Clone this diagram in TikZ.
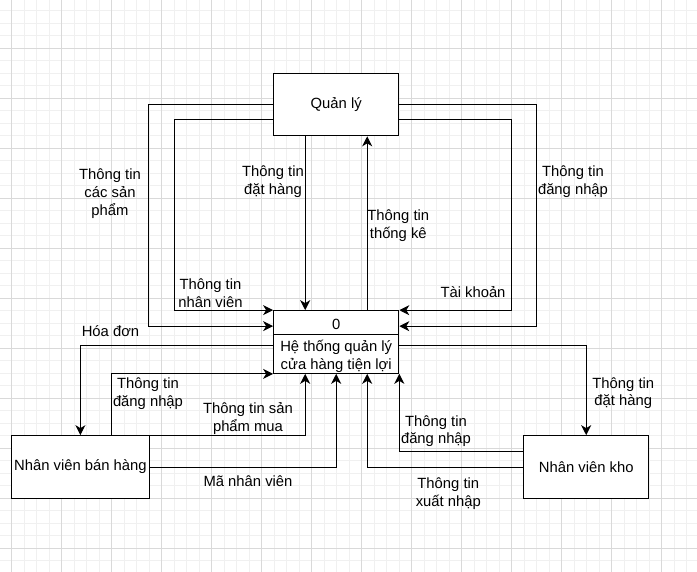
\documentclass[tikz,border=0pt]{standalone}
\usepackage{fontspec}
\setmainfont{Liberation Sans}
\usepackage{tikz}
\usetikzlibrary{arrows.meta}
\tikzstyle{entity} = [rectangle, minimum width=125pt, minimum height=62.5pt, inner sep=0pt, text centered, draw=black, line width=1.2pt, fill=white]
\tikzstyle{label} = [inner sep=0pt, align=center, yshift=-1.5pt]
\tikzstyle{arrow} = [line width=1pt, -{Stealth[length=10pt, width=10pt, inset=3pt]}]
\tikzstyle{gridminor} = [line width=1pt, draw=black!6]
\tikzstyle{gridmajor} = [line width=1pt, draw=black!15]

\begin{document}
\begin{tikzpicture}[x=1pt, y=-1pt, node distance=125pt, font=\fontsize{14.8}{17.8}\selectfont]
        \useasboundingbox (0,0) rectangle (697,572);
        \fill[white] (0,0) rectangle (697,572);
        % Grid
        \foreach \k in {0,...,55} \draw[gridminor] ({11.7+12.5*\k},0) -- ({11.7+12.5*\k},572);
        \foreach \k in {-3,...,41} \draw[gridminor] (0,{48.3+12.5*\k}) -- (697,{48.3+12.5*\k});
        \foreach \k in {0,...,13} \draw[gridmajor] ({11.7+50*\k},0) -- ({11.7+50*\k},572);
        \foreach \k in {0,...,10} \draw[gridmajor] (0,{48.3+50*\k}) -- (697,{48.3+50*\k});

        % Nodes
        \node (qly) [entity] at (336.2,104.5) {Quản lý};
        \node (sys) [entity, below of=qly, yshift=-112.5pt] {};
        \node (sysid) [label] at (336.2,323) {0};
        \node (sysname) [label] at (336.2,354.5) {Hệ thống quản lý\\cửa hàng tiện lợi};
        \node (nvbh) [entity, minimum width=137.5pt, below of=sys, xshift=-255.8pt] {Nhân viên bán hàng};
        \node (nvk) [entity, below of=sys, xshift=250pt] {Nhân viên kho};
        \draw [line width=1.2pt] ([yshift=-24.5pt]sys.north west) -- ([yshift=-24.5pt]sys.north east);

        % Labels
        \node (lblproducts) [label] at (110,192) {Thông tin\\các sản\\phẩm};
        \node (lblstaff) [label] at (210.5,291.7) {Thông tin\\nhân viên};
        \node (lblorder) [label] at (273,180) {Thông tin\\đặt hàng};
        \node (lblstats) [label] at (398.3,224) {Thông tin\\thống kê};
        \node (lblaccount) [label] at (473,291) {Tài khoản};
        \node (lbllogin) [label] at (573,180) {Thông tin\\đăng nhập};
        \node (lblinvoice) [label] at (110.5,330) {Hóa đơn};
        \node (lblsalelogin) [label] at (148,392) {Thông tin\\đăng nhập};
        \node (lblbought) [label] at (248,417) {Thông tin sản\\phẩm mua};
        \node (lblid) [label] at (248,480) {Mã nhân viên};
        \node (lblstocklogin) [label] at (436,429.7) {Thông tin\\đăng nhập};
        \node (lblexport) [label] at (448.3,492) {Thông tin\\xuất nhập};
        \node (lblstockorder) [label] at (623.3,391.7) {Thông tin\\đặt hàng};

        % Arrows
        \draw [arrow] (qly.west) -- ++(-125,0) |- ([yshift=-16pt]sys.north west);
        \draw [arrow] ([yshift=-15.5pt]qly.west) -- ++(-99,0) |- (sys.north west);
        \draw [arrow] ([xshift=-31pt]qly.south) -- ([xshift=-31pt]sys.north);
        \draw [arrow] ([xshift=31pt]sys.north) -- ([xshift=31pt]qly.south);
        \draw [arrow] ([yshift=-15.5pt]qly.east) -- ++(112,0) |- (sys.north east);
        \draw [arrow] (qly.east) -- ++(137,0) |- ([yshift=-16pt]sys.north east);
        \draw [arrow] ([yshift=-35pt]sys.north west) -| (nvbh.north);
        \draw [arrow] ([xshift=31pt]nvbh.north) |- (sys.south west);
        \draw [arrow] (nvbh.north east) -| ([xshift=-31pt]sys.south);
        \draw [arrow] (nvbh.east) -| (sys.south);
        \draw [arrow] ([yshift=-16pt]nvk.north west) -| (sys.south east);
        \draw [arrow] (nvk.west) -| ([xshift=31pt]sys.south);
        \draw [arrow] ([yshift=-35pt]sys.north east) -| (nvk.north);
    \end{tikzpicture}
\end{document}
